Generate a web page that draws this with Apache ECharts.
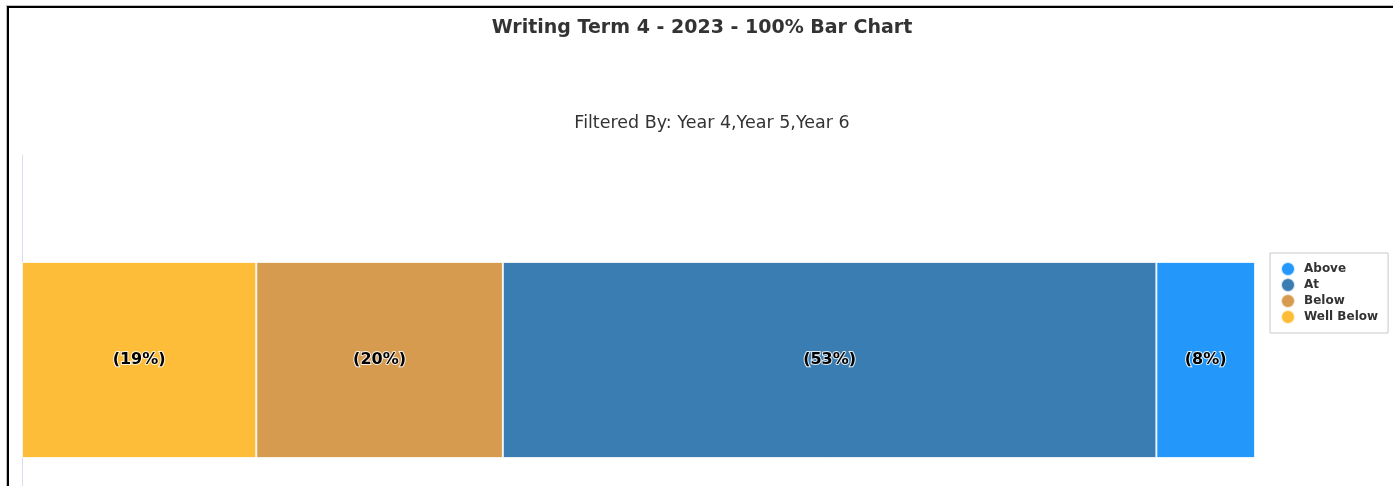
<!DOCTYPE html>
<html>
<head>
<meta charset="utf-8">
<script src="https://cdn.jsdelivr.net/npm/echarts@6/dist/echarts.min.js"></script>
<style>
  html, body { margin: 0; padding: 0; background: #fff; overflow: hidden; width: 1393px; height: 486px; }
  #chart { position: absolute; left: 0; top: 0; width: 1393px; height: 600px; }
  #frame {
    position: absolute; left: 7px; top: 6px; width: 1500px; height: 700px;
    border-left: 2px solid #000; border-top: 2px solid #000;
    box-shadow: -1px -1px 0 rgba(0,0,0,0.25);
    pointer-events: none;
  }
</style>
</head>
<body>
<div id="chart"></div>
<div id="frame"></div>
<script>
// Writing results, Term 4 2023, as shares of all students (Years 4-6)
const categories = ['Writing'];
const wellBelow = [19];
const below = [20];
const at = [53];
const above = [8];
const legendOrder = ['Above', 'At', 'Below', 'Well Below'];

const colors = {
  'Well Below': '#FDBD38',
  'Below': '#D79B50',
  'At': '#3A7DB3',
  'Above': '#2497FA'
};

function segment(name, values) {
  return {
    name: name,
    type: 'bar',
    stack: 'total',
    barWidth: 196,
    data: values,
    itemStyle: {
      color: colors[name],
      borderColor: 'rgba(255,255,255,0.75)',
      borderWidth: 1
    },
    label: {
      show: true,
      position: 'inside',
      formatter: p => '(' + p.value + '%)',
      color: '#000',
      fontFamily: 'DejaVu Sans',
      fontWeight: 'bold',
      fontSize: 16,
      textBorderColor: 'rgba(255,255,255,0.85)',
      textBorderWidth: 2
    },
    emphasis: { disabled: true }
  };
}

const chart = echarts.init(document.getElementById('chart'), null, { renderer: 'canvas' });
chart.setOption({
  animation: false,
  title: [
    {
      text: 'Writing Term 4 - 2023 - 100% Bar Chart',
      left: 697, top: 14, textAlign: 'center',
      textStyle: { fontFamily: 'DejaVu Sans', fontWeight: 'bold', fontSize: 19, color: '#333' }
    },
    {
      text: 'Filtered By: Year 4,Year 5,Year 6',
      left: 707, top: 109, textAlign: 'center',
      textStyle: { fontFamily: 'DejaVu Sans', fontWeight: 'normal', fontSize: 17.5, color: '#333' }
    }
  ],
  legend: {
    orient: 'vertical',
    left: 1270, top: 253,
    data: legendOrder,
    icon: 'circle',
    itemWidth: 14, itemHeight: 14,
    itemGap: 0,
    padding: [8, 10, 8, 10],
    borderColor: '#c8c8c8', borderWidth: 1,
    backgroundColor: '#fff',
    textStyle: { fontFamily: 'DejaVu Sans', fontWeight: 'bold', fontSize: 12, lineHeight: 12, color: '#333', padding: [0, 0, 0, 4] }
  },
  grid: { left: 22, right: 138, top: 155, height: 410, containLabel: false },
  xAxis: {
    type: 'value', min: 0, max: 100,
    show: false
  },
  yAxis: {
    type: 'category', data: categories,
    axisLine: { show: true, lineStyle: { color: '#dcdcef', width: 1 } },
    axisTick: { show: false },
    axisLabel: { show: false },
    splitLine: { show: false }
  },
  series: [
    segment('Well Below', wellBelow),
    segment('Below', below),
    segment('At', at),
    segment('Above', above)
  ]
});
</script>
</body>
</html>
